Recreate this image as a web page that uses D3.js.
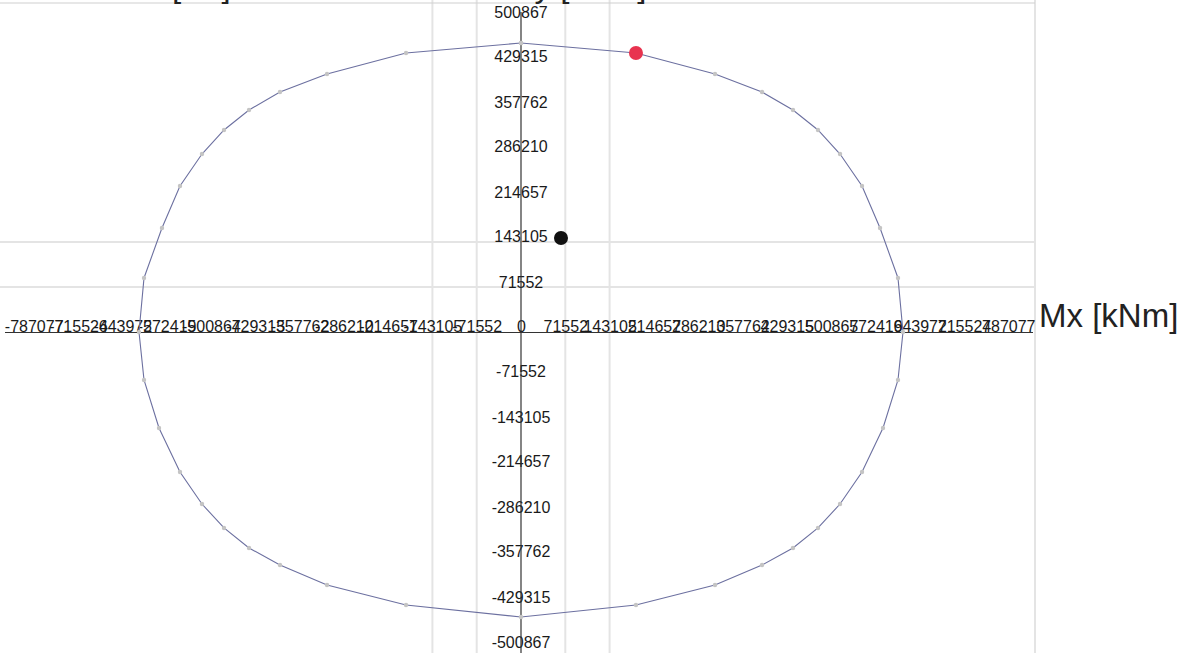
<!DOCTYPE html>
<html>
<head>
<meta charset="utf-8">
<script src="https://cdn.jsdelivr.net/npm/d3@7"></script>
<style>
  html, body { margin: 0; padding: 0; background: #fff; }
  svg { display: block; font-family: "Liberation Sans", Arial, sans-serif; }
</style>
</head>
<body>
<svg id="chart" width="1186" height="653"></svg>
<script>
// Interaction curve Mx / My [kNm]
const curveMx = [
  0, 185700, 313300, 389300, 439300, 479700, 515300, 550800, 579900, 608900, 617000,
  608900, 584700, 550800, 515300, 479700, 439300, 389300, 313300, 185700, 0,
  -185700, -313300, -389300, -439300, -479700, -515300, -550800, -584700, -608900, -617000,
  -608900, -579900, -550800, -515300, -479700, -439300, -389300, -313300, -185700, 0
];
const curveMy = [
  459500, 443600, 410200, 381600, 353000, 321200, 283000, 232100, 165400, 85900, 0,
  -76300, -152600, -222600, -273500, -311600, -343400, -370500, -402300, -434100, -453200,
  -434100, -402300, -370500, -343400, -311600, -273500, -222600, -152600, -76300, 0,
  85900, 165400, 232100, 283000, 321200, 353000, 381600, 410200, 443600, 459500
];

// Design load point and governing point on the curve
const loadPoint = [64600, 149500];
const capacityPoint = [185700, 443600];

// Axis ticks
const xTickLabels = ["-787077","-715524","-643972","-572419","-500867","-429315","-357762",
  "-286210","-214657","-143105","-71552","0","71552","143105","214657","286210","357762",
  "429315","500867","572419","643972","715524","787077"];
const yTickLabels = ["-500867","-429315","-357762","-286210","-214657","-143105","-71552",
  "71552","143105","214657","286210","357762","429315","500867"];
const gridMx = [-143105, -71552, 71552, 143105];
const gridMy = [71552, 143105];

const xTicks = xTickLabels.map(Number);
const yTicks = yTickLabels.map(Number);

const svg = d3.select("#chart");

const x = d3.scaleLinear().domain([-787077, 787077]).range([33.7, 1008.3]);
const y = d3.scaleLinear().domain([-500867, 500867]).range([647, 17]);

const x0 = x(0), y0 = y(0);

// light grid / frame
const grid = svg.append("g").attr("stroke", "#e4e4e4").attr("stroke-width", 2);
grid.selectAll("line.v").data(gridMx).join("line")
  .attr("x1", d => x(d)).attr("x2", d => x(d)).attr("y1", 0).attr("y2", 653);
grid.selectAll("line.h").data(gridMy).join("line")
  .attr("x1", 0).attr("x2", 1035).attr("y1", d => y(d)).attr("y2", d => y(d));
grid.append("line").attr("x1", 1035).attr("x2", 1035).attr("y1", 0).attr("y2", 653);
grid.append("line").attr("x1", 0).attr("x2", 1035).attr("y1", 3).attr("y2", 3)
  .attr("stroke", "#cfcfcf").attr("stroke-width", 1.2);

// axis titles
svg.append("text").attr("x", 139).attr("y", -3).attr("font-size", 33).attr("fill", "#222").text("N [kN]");
svg.append("text").attr("x", 507).attr("y", -3).attr("font-size", 33).attr("fill", "#222").text("My [kNm]");
svg.append("text").attr("x", 1039).attr("y", 327).attr("font-size", 33).attr("fill", "#222").text("Mx [kNm]");

// x axis
const xAxis = d3.axisBottom(x).tickValues(xTicks)
  .tickFormat((d, i) => xTickLabels[i]).tickSize(0);
const gx = svg.append("g").attr("transform", `translate(0,${y0})`).call(xAxis);
gx.select(".domain").remove();
gx.selectAll("text").attr("y", 0).attr("dy", "0").attr("font-size", 16)
  .attr("font-family", "Liberation Sans, Arial, sans-serif").attr("fill", "#1a1a1a");
svg.append("line").attr("x1", 5).attr("x2", 1033).attr("y1", y0 + 0.5).attr("y2", y0 + 0.5)
  .attr("stroke", "#333").attr("stroke-width", 1.2);

// y axis
const yAxis = d3.axisLeft(y).tickValues(yTicks)
  .tickFormat((d, i) => yTickLabels[i]).tickSize(0);
const gy = svg.append("g").attr("transform", `translate(${x0},0)`).call(yAxis);
gy.select(".domain").remove();
gy.selectAll("text").attr("x", 0).attr("dy", "0").attr("text-anchor", "middle")
  .attr("font-size", 16).attr("font-family", "Liberation Sans, Arial, sans-serif").attr("fill", "#1a1a1a");
svg.append("line").attr("x1", x0).attr("x2", x0).attr("y1", 12).attr("y2", 653)
  .attr("stroke", "#333").attr("stroke-width", 1.2);

// interaction curve
const pts = curveMx.map((d, i) => [d, curveMy[i]]);
const line = d3.line().x(d => x(d[0])).y(d => y(d[1]));
svg.append("path").datum(pts).attr("d", line)
  .attr("fill", "none").attr("stroke", "#6c70a0").attr("stroke-width", 1.1);
svg.append("g").selectAll("circle").data(pts).join("circle")
  .attr("cx", d => x(d[0])).attr("cy", d => y(d[1])).attr("r", 2.2)
  .attr("fill", "#c4c4c4");

// points
svg.append("circle").attr("cx", x(capacityPoint[0])).attr("cy", y(capacityPoint[1]))
  .attr("r", 7).attr("fill", "#e8334f");
svg.append("circle").attr("cx", x(loadPoint[0])).attr("cy", y(loadPoint[1]))
  .attr("r", 7).attr("fill", "#111");
</script>
</body>
</html>
